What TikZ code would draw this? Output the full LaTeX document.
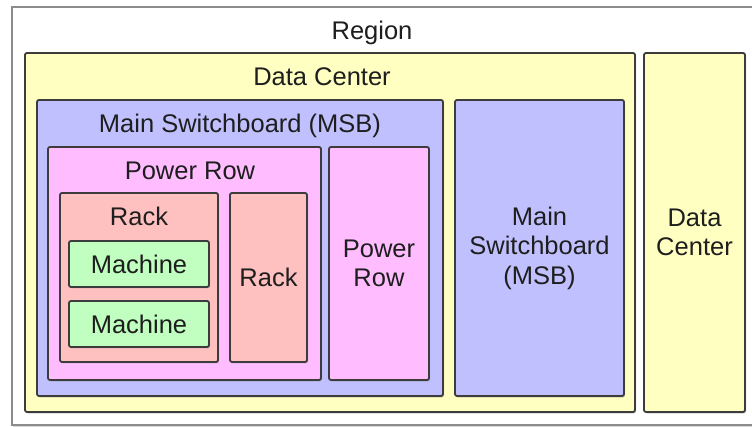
\documentclass[tikz,border=0pt]{standalone}
\usepackage{fontspec}
\setmainfont{Liberation Sans}
\usetikzlibrary{shadows}
\definecolor{dcyellow}{HTML}{FFFFC2}
\definecolor{msbblue}{HTML}{C0C0FF}
\definecolor{prpink}{HTML}{FFBDFF}
\definecolor{racksalmon}{HTML}{FFC0C0}
\definecolor{machgreen}{HTML}{C0FFC0}
\definecolor{edgegray}{HTML}{3C3C3C}
\definecolor{txt}{HTML}{1E1E1E}
\tikzset{
  box/.style={draw=edgegray, line width=1.8pt, rounded corners=2pt, inner sep=0pt,
    drop shadow={shadow xshift=1pt, shadow yshift=-1.5pt, opacity=0.35}},
  regionbox/.style={draw=gray!90, line width=1.6pt, fill=white, inner sep=0pt,
    drop shadow={shadow xshift=1pt, shadow yshift=-1.5pt, opacity=0.3}},
  lbl/.style={text=txt, font=\fontsize{25.5}{29.5}\selectfont, inner sep=0pt, anchor=base},
  mlbl/.style={text=txt, font=\fontsize{25.5}{29.5}\selectfont, inner sep=0pt, align=center},
}
\begin{document}
\begin{tikzpicture}[x=1pt,y=-1pt]
\useasboundingbox (0,0) rectangle (752,427);
\fill[white] (0,0) rectangle (752,427);
% Region
\node[regionbox, minimum width=748pt, minimum height=418pt] (region) at (386,216) {};
\node[lbl] (regiont) at (372,39.5) {Region};
% Data centers
\node[box, fill=dcyellow, minimum width=610pt, minimum height=359pt] (dc1) at (330,232.5) {};
\node[lbl] (dc1t) at (322,85.5) {Data Center};
\node[box, fill=dcyellow, minimum width=101pt, minimum height=359pt] (dc2) at (694.5,232.5) {};
\node[mlbl] (dc2t) at (dc2.center) {Data\\Center};
% MSBs
\node[box, fill=msbblue, minimum width=406pt, minimum height=296pt] (msb1) at (240,248) {};
\node[lbl] (msb1t) at (240,132.5) {Main Switchboard (MSB)};
\node[box, fill=msbblue, minimum width=169pt, minimum height=296pt] (msb2) at (539.5,248) {};
\node[mlbl] (msb2t) at (msb2.center) {Main\\Switchboard\\(MSB)};
% Power rows
\node[box, fill=prpink, minimum width=273pt, minimum height=233pt] (pr1) at (184.5,263.5) {};
\node[lbl] (pr1t) at (190,179.5) {Power Row};
\node[box, fill=prpink, minimum width=100pt, minimum height=233pt] (pr2) at (379,263.5) {};
\node[mlbl] (pr2t) at (pr2.center) {Power\\Row};
% Racks
\node[box, fill=racksalmon, minimum width=158pt, minimum height=169pt] (rack1) at (139,277.5) {};
\node[lbl] (rack1t) at (139,226) {Rack};
\node[box, fill=racksalmon, minimum width=77pt, minimum height=169pt] (rack2) at (268.5,277.5) {};
\node[mlbl] (rack2t) at (rack2.center) {Rack};
% Machines
\node[box, fill=machgreen, minimum width=140pt, minimum height=46pt] (m1) at (139,264) {};
\node[mlbl] (m1t) at (m1.center) {Machine};
\node[box, fill=machgreen, minimum width=140pt, minimum height=46pt] (m2) at (139,324) {};
\node[mlbl] (m2t) at (m2.center) {Machine};
\end{tikzpicture}
\end{document}
